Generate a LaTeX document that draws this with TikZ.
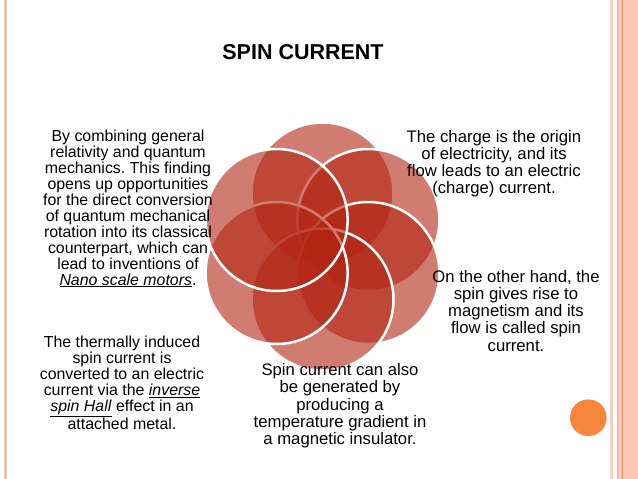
\documentclass[tikz,border=0pt]{standalone}
\usepackage{fontspec}
\setmainfont{Liberation Sans}
\frenchspacing
\definecolor{petalred}{RGB}{178,36,18}
\definecolor{edgepink}{RGB}{248,206,192}
\definecolor{edgeline}{RGB}{240,172,150}
\definecolor{barsalmon}{RGB}{251,201,182}
\definecolor{barline}{RGB}{238,140,100}
\definecolor{dotorange}{RGB}{247,134,60}
\begin{document}
\begin{tikzpicture}[x=1pt,y=-1pt,
  petal/.style={fill=petalred,fill opacity=0.6,draw=white,line width=2.5pt},
  blurb/.style={align=center,inner sep=0pt,anchor=north,font=\fontsize{16.7}{17.2}\selectfont},
  blurbleft/.style={blurb,font=\fontsize{15.9}{16}\selectfont}]
\useasboundingbox (0,0) rectangle (638,479);
% slide frame
\fill[edgepink] (3.5,0) rectangle (6.5,479);
\draw[edgeline,line width=0.6pt] (5,0) -- (5,479);
\fill[edgepink] (610,0) rectangle (613,479);
\fill[barsalmon] (616.7,0) rectangle (638,479);
\draw[edgeline,line width=0.6pt] (617.2,0) -- (617.2,479);
\draw[barline,line width=0.8pt] (622.5,0) -- (622.5,479);
\fill[dotorange] (588.3,417.7) circle[radius=18.3pt];
% six petals, clockwise from the top
\draw[petal] (322.5,193.5) circle[radius=71pt];
\draw[petal] (368.4,220) circle[radius=71pt];
\draw[petal] (368.4,273) circle[radius=71pt];
\draw[petal] (322.5,299.5) circle[radius=71pt];
\draw[petal] (276.6,273) circle[radius=71pt];
\draw[petal] (276.6,220) circle[radius=71pt];
% texts
\node[font=\fontsize{21.5}{24}\selectfont\bfseries] (title) at (303,52.5) {SPIN CURRENT};
\node[blurb] (charge) at (494,130) {The charge is the origin\\
of electricity, and its\\
flow leads to an electric\\
(charge) current.};
\node[blurb] (spin) at (516,270) {On the other hand, the\\
spin gives rise to\\
magnetism and its\\
flow is called spin\\
current.};
\node[blurb] (gradient) at (340,363.3) {Spin current can also\\
be generated by\\
producing a\\
temperature gradient in\\
a magnetic insulator.};
\node[blurbleft] (combine) at (128,129.4) {By combining general\\
relativity and quantum\\
mechanics. This finding\\
opens up opportunities\\
for the direct conversion\\
of quantum mechanical\\
rotation into its classical\\
counterpart, which can\\
lead to inventions of\\
\underline{\textit{Nano scale motors}}.};
\node[blurbleft] (thermal) at (122,336) {The thermally induced\\
spin current is\\
converted to an electric\\
current via the \underline{\textit{inverse}}\\
\underline{\textit{spin Hall}} effect in an\\
attached metal.};
\end{tikzpicture}
\end{document}
